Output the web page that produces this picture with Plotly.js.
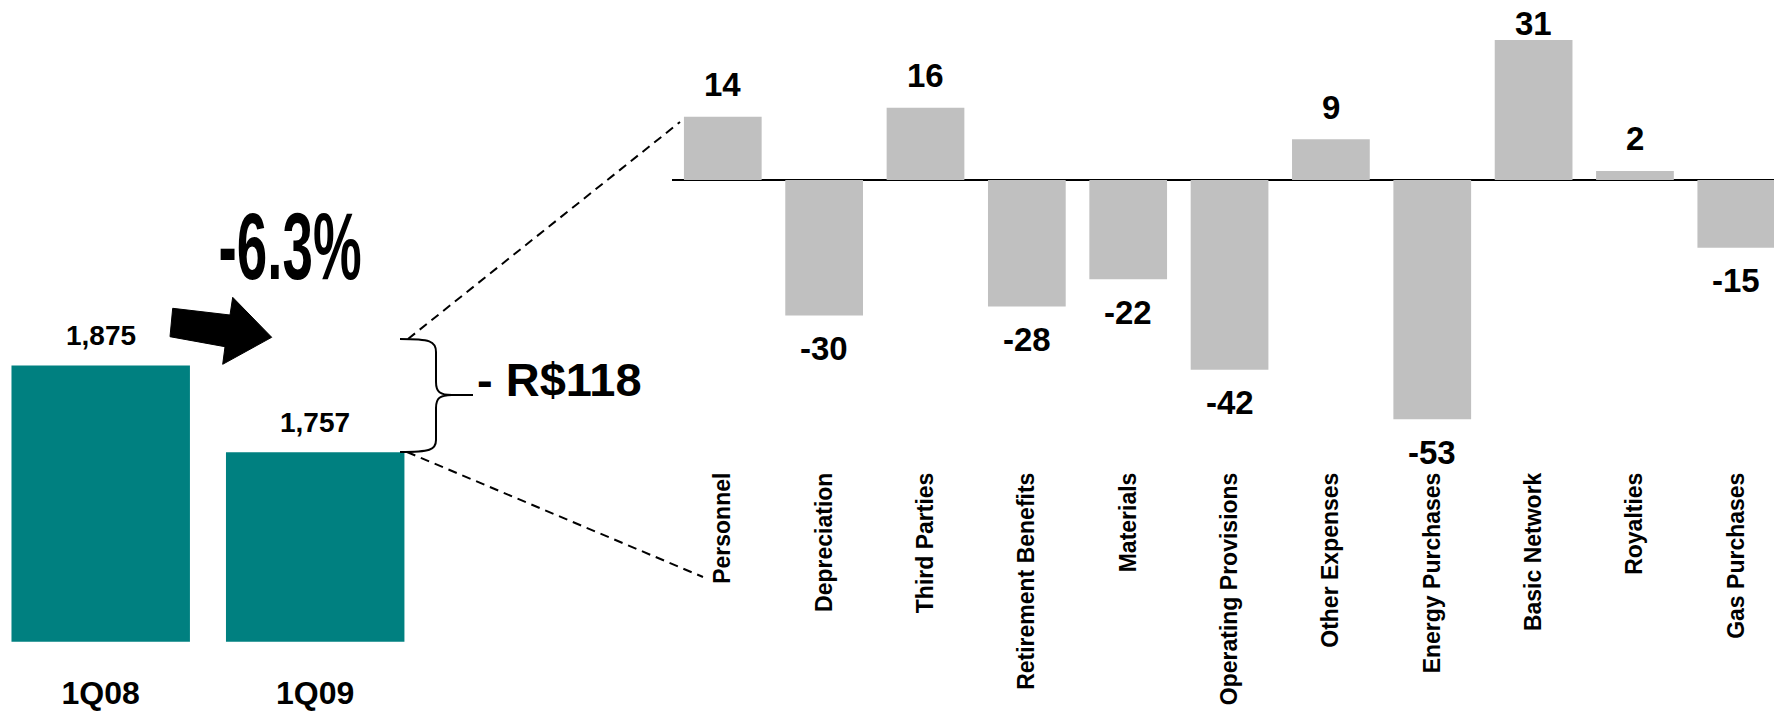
<!DOCTYPE html>
<html>
<head>
<meta charset="utf-8">
<script src="https://cdn.plot.ly/plotly-3.0.1.min.js"></script>
<style>
  html, body { margin: 0; padding: 0; background: #ffffff; }
  #chart { width: 1774px; height: 711px; }
</style>
</head>
<body>
<div id="chart"></div>
<script>
// ---------- data ----------
const quarters = ["1Q08", "1Q09"];
const totals = [1875, 1757];
const totalLabels = ["1,875", "1,757"];

const categories = ["Personnel", "Depreciation", "Third Parties", "Retirement Benefits", "Materials",
  "Operating Provisions", "Other Expenses", "Energy Purchases", "Basic Network", "Royalties", "Gas Purchases"];
const changes = [14, -30, 16, -28, -22, -42, 9, -53, 31, 2, -15];

const changePctText = "-6.3%";
const changeAbsText = "- R$118";

// ---------- geometry helpers (figure pixels -> paper) ----------
const W = 1774, H = 711;
const px = v => v / W;
const py = v => 1 - v / H;

const FONT = "Liberation Sans, Arial, sans-serif";
const NARROW = "Liberation Sans Narrow, Arial Narrow, Liberation Sans, sans-serif";

// right chart vertical scale
const zeroPx = 180, pxPerUnit = 4.516, rightBottomPx = 467;
const y2Range = [-(rightBottomPx - zeroPx) / pxPerUnit, zeroPx / pxPerUnit];

const traces = [
  {
    type: "bar", x: quarters, y: totals, xaxis: "x", yaxis: "y",
    width: 0.832, marker: { color: "#008080" }, hoverinfo: "skip"
  },
  {
    type: "bar", x: categories, y: changes, xaxis: "x2", yaxis: "y2",
    width: 0.767, marker: { color: "#C0C0C0" }, hoverinfo: "skip"
  }
];

const annotations = [];
quarters.forEach((q, i) => {
  annotations.push({
    xref: "x", yref: "y", x: q, y: totals[i], text: totalLabels[i],
    showarrow: false, yanchor: "middle", yshift: 29.5,
    font: { family: FONT, size: 28, color: "#000", weight: "bold" }
  });
});
changes.forEach((v, i) => {
  let shift = v >= 0 ? 32 : -33;
  if (v >= 0) {
    const barTop = zeroPx - v * pxPerUnit;
    shift = Math.min(shift, barTop - 24);
  }
  annotations.push({
    xref: "x2", yref: "y2", x: categories[i], y: v, text: String(v),
    showarrow: false, yanchor: "middle", yshift: shift,
    font: { family: FONT, size: 33, color: "#000", weight: "bold" }
  });
});
annotations.push({
  xref: "paper", yref: "paper", x: px(289.5), y: py(246), text: changePctText,
  showarrow: false, xanchor: "center", yanchor: "middle",
  font: { family: NARROW, size: 95, color: "#000", weight: "bold" }
});
annotations.push({
  xref: "paper", yref: "paper", x: px(475), y: py(380), text: changeAbsText,
  showarrow: false, xanchor: "left", yanchor: "middle",
  font: { family: FONT, size: 47, color: "#000", weight: "bold" }
});

function pathFrom(points) {
  return points.map((p, i) => (i ? "L" : "M") + px(p[0]) + "," + py(p[1])).join(" ") + " Z";
}
const arrowPts = [[172.7, 308.3], [230, 315], [232.7, 297.3], [271.7, 337.3], [222.7, 364.3], [225, 346.7], [170, 336.7]];

function P(x, y) { return px(x) + "," + py(y); }
const bracePath =
  "M" + P(400, 339) + " C" + P(430, 339) + " " + P(436, 341) + " " + P(436, 352) +
  " L" + P(436, 382) + " C" + P(436, 392) + " " + P(440, 395) + " " + P(452, 395) +
  " L" + P(473, 395) +
  " M" + P(452, 395) + " C" + P(440, 395) + " " + P(436, 398) + " " + P(436, 408) +
  " L" + P(436, 440) + " C" + P(436, 450) + " " + P(430, 452) + " " + P(400, 452);

const shapes = [
  { type: "path", xref: "paper", yref: "paper", path: pathFrom(arrowPts),
    fillcolor: "#000", line: { color: "#000", width: 1 } },
  { type: "path", xref: "paper", yref: "paper", path: bracePath,
    line: { color: "#000", width: 2 } },
  { type: "line", xref: "paper", yref: "paper", x0: px(408), y0: py(339), x1: px(680), y1: py(122),
    line: { color: "#000", width: 2, dash: "9px,6px" } },
  { type: "line", xref: "paper", yref: "paper", x0: px(407), y0: py(452), x1: px(703), y1: py(577),
    line: { color: "#000", width: 2, dash: "9px,6px" } }
];

const layout = {
  width: W, height: H,
  margin: { l: 0, r: 0, t: 0, b: 0, pad: 0 },
  paper_bgcolor: "#ffffff", plot_bgcolor: "rgba(0,0,0,0)",
  showlegend: false,
  xaxis: {
    domain: [0, px(420)], range: [-0.4695, 1.4886], anchor: "y",
    showgrid: false, zeroline: false, showline: false, ticks: "",
    ticklabelstandoff: 29,
    tickfont: { family: FONT, size: 32, color: "#000", weight: "bold" }
  },
  yaxis: {
    domain: [py(641.7), 1], range: [1500, 2371], anchor: "x",
    visible: false, showgrid: false, zeroline: false
  },
  xaxis2: {
    domain: [px(672), 1], range: [-0.5012, 10.372], anchor: "y2",
    showgrid: false, zeroline: false, showline: false, ticks: "",
    tickangle: -90,
    tickfont: { family: FONT, size: 23, color: "#000", weight: "bold" }
  },
  yaxis2: {
    domain: [py(rightBottomPx), 1], range: y2Range, anchor: "x2",
    showgrid: false, showticklabels: false, ticks: "", showline: false,
    zeroline: true, zerolinecolor: "#000", zerolinewidth: 2
  },
  annotations: annotations,
  shapes: shapes
};

Plotly.newPlot("chart", traces, layout, { staticPlot: true, displayModeBar: false }).then(gd => {
  // condense the large percentage label horizontally, like the original narrow typeface
  const texts = gd.querySelectorAll(".annotation-text");
  texts.forEach(t => {
    if (t.textContent === changePctText) {
      const bb = t.getBBox();
      const target = 143;
      const s = Math.min(1, target / bb.width);
      const cx = bb.x + bb.width / 2;
      t.setAttribute("transform", "translate(" + cx + ",0) scale(" + s + ",1) translate(" + (-cx) + ",0)");
    }
  });
});
</script>
</body>
</html>
